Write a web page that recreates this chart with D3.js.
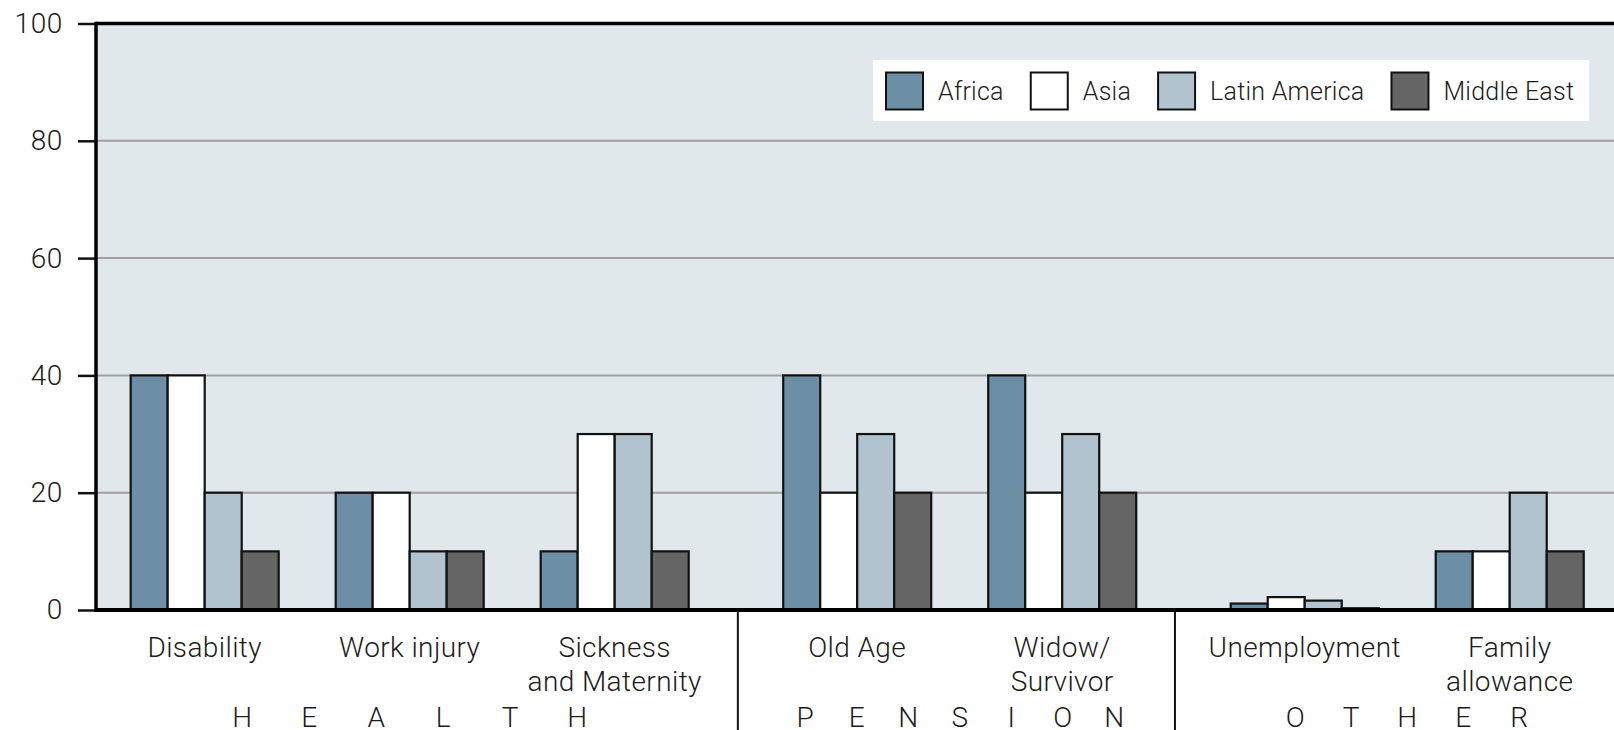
<!DOCTYPE html>
<html>
<head>
<meta charset="utf-8">
<script src="https://cdn.jsdelivr.net/npm/d3@7"></script>
<style>
  html, body { margin: 0; padding: 0; background: #ffffff; }
  svg { display: block; font-family: Roboto, "Liberation Sans", sans-serif; font-weight: 300; }
</style>
</head>
<body>
<svg id="chart" width="1614" height="730"></svg>
<script>
// ---- data ----
const categories = ["Disability", "Work injury", "Sickness and Maternity", "Old Age", "Widow/Survivor", "Unemployment", "Family allowance"];
const categoryLines = [["Disability"], ["Work injury"], ["Sickness", "and Maternity"], ["Old Age"], ["Widow/", "Survivor"], ["Unemployment"], ["Family", "allowance"]];
const sections = ["HEALTH", "PENSION", "OTHER"];
const sectionOf = [0, 0, 0, 1, 1, 2, 2];
const seriesNames = ["Africa", "Asia", "Latin America", "Middle East"];
const africa = [40, 20, 10, 40, 40, 1.1, 10];
const asia = [40, 20, 30, 20, 20, 2.2, 10];
const latinAmerica = [20, 10, 30, 30, 30, 1.6, 20];
const middleEast = [10, 10, 10, 20, 20, 0.3, 10];
const yTicks = [0, 20, 40, 60, 80, 100];

const seriesValues = [africa, asia, latinAmerica, middleEast];
const seriesColors = ["#6d8fa6", "#ffffff", "#b0c3cf", "#656566"];

// ---- layout ----
const W = 1614, H = 730;
const plotLeft = 96, plotRight = W + 20, plotTop = 23.5, plotBottom = 610;
const groupWidth = 148;          // four bars side by side
const sectionGap = 0.183;        // extra spacing between sections, in group steps
const dividerAt = [0.52, 0.41];  // where each divider sits inside the gap between sections
const letterStep = [67, 51.5, 56];
const fontSize = 28;
const textColor = "#1c1c1c";

const svg = d3.select("#chart");

const y = d3.scaleLinear().domain([0, 100]).range([plotBottom, plotTop]);
const xSlot = d3.scaleLinear().domain([0, 1]).range([130.7, 335.7]);
const groupStart = categories.map((c, i) => xSlot(i + sectionOf[i] * sectionGap));
const xInner = d3.scaleBand().domain(seriesNames).range([0, groupWidth]).padding(0);

// plot background
svg.append("rect")
  .attr("x", plotLeft).attr("y", plotTop)
  .attr("width", plotRight - plotLeft).attr("height", plotBottom - plotTop)
  .attr("fill", "#e0e8eb");

// horizontal grid lines
svg.append("g").selectAll("line")
  .data(yTicks.filter(t => t > 0 && t < 100))
  .join("line")
  .attr("x1", plotLeft).attr("x2", plotRight)
  .attr("y1", d => y(d)).attr("y2", d => y(d))
  .attr("stroke", "#9fa1a1").attr("stroke-width", 2);

// grouped bars
const rows = [];
categories.forEach((c, i) => {
  seriesNames.forEach((s, k) => {
    rows.push({ cat: i, series: s, k: k, value: seriesValues[k][i] });
  });
});
svg.append("g").selectAll("rect")
  .data(rows)
  .join("rect")
  .attr("x", d => groupStart[d.cat] + xInner(d.series))
  .attr("y", d => y(d.value))
  .attr("width", xInner.bandwidth())
  .attr("height", d => y(0) - y(d.value))
  .attr("fill", d => seriesColors[d.k])
  .attr("stroke", "#111")
  .attr("stroke-width", 2.2);

// y axis
const yAxis = d3.axisLeft(y).tickValues(yTicks).tickSize(18).tickPadding(15).tickSizeOuter(0);
const gy = svg.append("g").attr("transform", `translate(${plotLeft},0)`).call(yAxis);
gy.select(".domain").remove();
gy.selectAll(".tick line").attr("stroke", "#111").attr("stroke-width", 2.5);
gy.selectAll(".tick text")
  .attr("fill", textColor).attr("font-size", fontSize).attr("letter-spacing", 0.6)
  .attr("font-family", "Roboto, 'Liberation Sans', sans-serif").attr("font-weight", 300);

// frame: left axis, top border, baseline
svg.append("line")
  .attr("x1", plotLeft).attr("x2", plotLeft)
  .attr("y1", plotTop - 1.75).attr("y2", plotBottom + 2)
  .attr("stroke", "#000").attr("stroke-width", 3.5);
svg.append("line")
  .attr("x1", plotLeft).attr("x2", plotRight)
  .attr("y1", plotTop).attr("y2", plotTop)
  .attr("stroke", "#000").attr("stroke-width", 3.5);
svg.append("line")
  .attr("x1", plotLeft).attr("x2", plotRight)
  .attr("y1", plotBottom).attr("y2", plotBottom)
  .attr("stroke", "#000").attr("stroke-width", 4);

// category labels
const catG = svg.append("g")
  .attr("font-size", fontSize).attr("fill", textColor).attr("text-anchor", "middle")
  .attr("letter-spacing", 0.4);
categoryLines.forEach((lines, i) => {
  const t = catG.append("text").attr("x", groupStart[i] + groupWidth / 2).attr("y", 657);
  lines.forEach((ln, j) => {
    t.append("tspan").attr("x", groupStart[i] + groupWidth / 2).attr("y", 657 + j * 34).text(ln);
  });
});

// section dividers and spaced-out section names
const secBounds = sections.map((s, si) => {
  const idx = categories.map((c, i) => i).filter(i => sectionOf[i] === si);
  return { start: groupStart[idx[0]], end: groupStart[idx[idx.length - 1]] + groupWidth };
});
for (let si = 1; si < sections.length; si++) {
  const a = secBounds[si - 1].end, b = secBounds[si].start;
  const xd = a + (b - a) * dividerAt[si - 1];
  svg.append("line")
    .attr("x1", xd).attr("x2", xd).attr("y1", plotBottom + 2).attr("y2", H)
    .attr("stroke", "#111").attr("stroke-width", 2);
}
const secG = svg.append("g").attr("font-size", fontSize).attr("fill", textColor).attr("text-anchor", "middle");
sections.forEach((s, si) => {
  const cx = (secBounds[si].start + secBounds[si].end) / 2;
  const letters = s.split("");
  const t = secG.append("text").attr("y", 727);
  letters.forEach((ch, k) => {
    t.append("tspan")
      .attr("x", cx + (k - (letters.length - 1) / 2) * letterStep[si])
      .attr("y", 727)
      .text(ch);
  });
});

// legend
const legendG = svg.append("g");
const legendBox = legendG.append("rect").attr("fill", "#ffffff");
let lx = 886;
const sw = 37, legTop = 60, legH = 61;
seriesNames.forEach((name, k) => {
  legendG.append("rect")
    .attr("x", lx).attr("y", legTop + 12.5).attr("width", sw).attr("height", sw)
    .attr("fill", seriesColors[k]).attr("stroke", "#111").attr("stroke-width", 2);
  const t = legendG.append("text")
    .attr("x", lx + sw + 15).attr("y", legTop + 39.5)
    .attr("font-size", 25).attr("letter-spacing", 0.25).attr("fill", textColor).text(name);
  const tw = t.node().getComputedTextLength();
  lx = lx + sw + 15 + tw + (k < seriesNames.length - 1 ? 27 : 0);
});
legendBox.attr("x", 873).attr("y", legTop).attr("width", lx + 15 - 873).attr("height", legH);
</script>
</body>
</html>
